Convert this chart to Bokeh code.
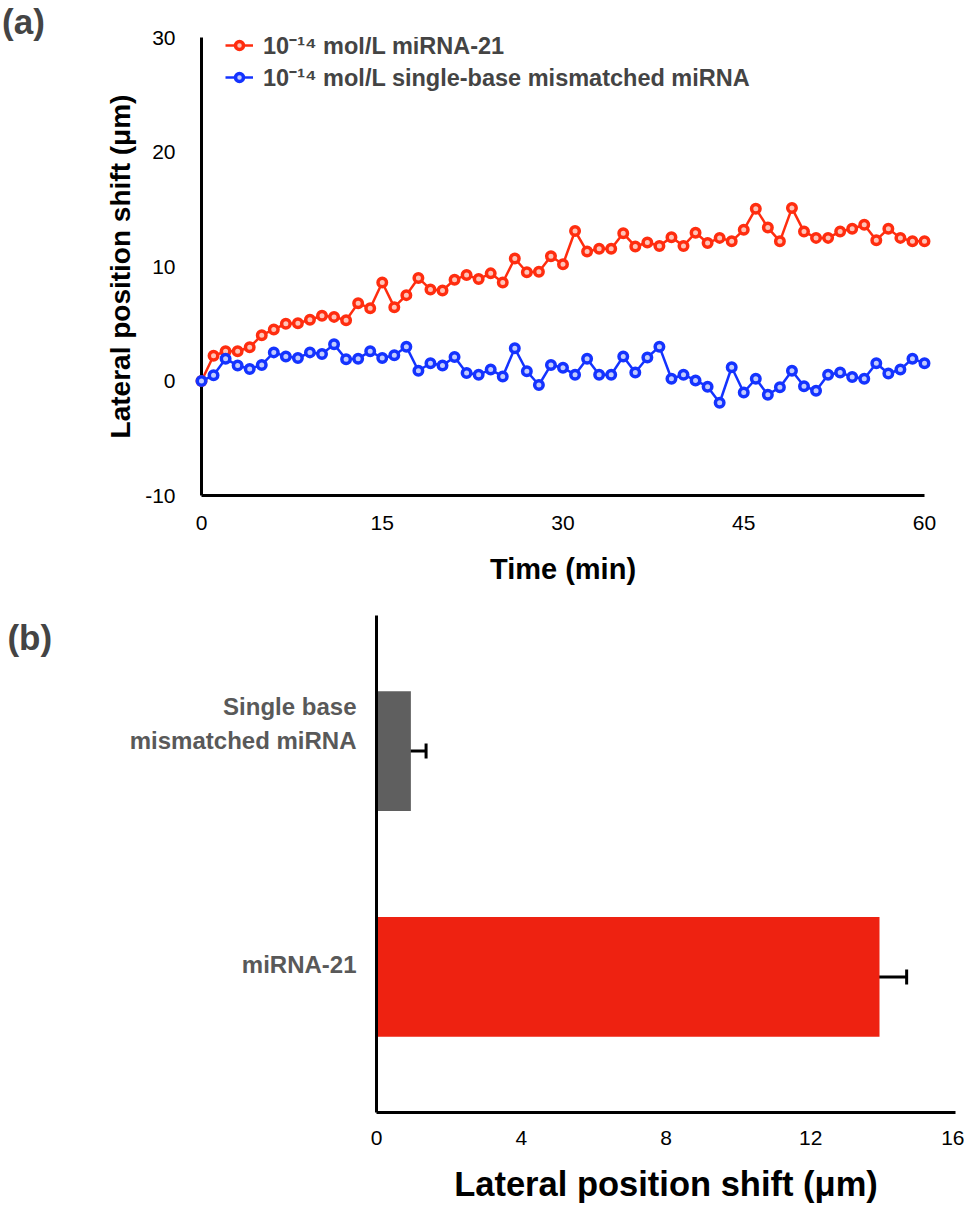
from bokeh.plotting import figure
from bokeh.models import (Legend, LegendItem, Label, Whisker, TeeHead, ColumnDataSource,
                          Range1d, FixedTicker)
from bokeh.embed import file_html
from bokeh.resources import INLINE

# ---------------- data ----------------
time_min = list(range(61))
mirna21 = [0.0, 2.2, 2.6, 2.6, 2.95, 4.0, 4.5, 5.0, 5.05, 5.35, 5.7, 5.6, 5.3, 6.8, 6.35,
           8.6, 6.45, 7.5, 9.0, 8.0, 7.9, 8.85, 9.25, 8.9, 9.4, 8.6, 10.7, 9.5, 9.55, 10.9,
           10.2, 13.1, 11.3, 11.55, 11.55, 12.9, 11.75, 12.1, 11.8, 12.55, 11.8, 12.95, 12.05,
           12.5, 12.2, 13.2, 15.05, 13.4, 12.2, 15.1, 13.05, 12.5, 12.5, 13.05, 13.3, 13.65,
           12.3, 13.3, 12.5, 12.2, 12.2]
mismatched = [0.0, 0.5, 1.95, 1.35, 1.05, 1.4, 2.5, 2.15, 2.0, 2.5, 2.35, 3.2, 1.9, 1.95, 2.6,
              2.0, 2.25, 3.0, 0.9, 1.55, 1.35, 2.1, 0.7, 0.55, 1.0, 0.4, 2.85, 0.85, -0.35, 1.4,
              1.15, 0.55, 1.95, 0.55, 0.55, 2.15, 0.75, 2.05, 3.0, 0.2, 0.55, 0.05, -0.5, -1.9,
              1.2, -1.0, 0.2, -1.2, -0.55, 0.9, -0.45, -0.85, 0.55, 0.75, 0.35, 0.2, 1.55, 0.65,
              1.0, 1.95, 1.55]
series_labels = ["10\u207b\u00b9\u2074 mol/L miRNA-21",
                 "10\u207b\u00b9\u2074 mol/L single-base mismatched miRNA"]
x_ticks_a = [0, 15, 30, 45, 60]
y_ticks_a = [-10, 0, 10, 20, 30]

bar_categories = ["miRNA-21", "Single base mismatched miRNA"]
bar_category_lines = [["miRNA-21"], ["Single base", "mismatched miRNA"]]
bar_values = [13.9, 0.95]
bar_errors = [0.75, 0.42]
x_ticks_b = [0, 4, 8, 12, 16]

# ---------------- style ----------------
FONT = "Liberation Sans"
RED = "#ff2d0f"
RED_FILL = "#ffc4b8"
BLUE = "#1433ff"
BLUE_FILL = "#c2ccff"
BAR_COLORS = ["#ee2211", "#5f5f5f"]


def style_axes(p):
    for ax in (p.xaxis[0], p.yaxis[0]):
        ax.axis_line_width = 3
        ax.axis_line_color = "black"
        ax.major_tick_line_color = None
        ax.minor_tick_line_color = None
        ax.major_label_text_font = FONT
        ax.major_label_text_color = "black"
        ax.axis_label_text_font = FONT
        ax.axis_label_text_font_style = "bold"
        ax.axis_label_text_color = "black"
    p.grid.visible = False
    p.outline_line_color = None
    p.background_fill_color = "white"
    p.border_fill_color = "white"


# ---------------- (a) line chart ----------------
p1 = figure(width=964, height=608, x_range=Range1d(0, 60), y_range=Range1d(-10, 30),
            output_backend="svg", toolbar_location=None,
            min_border_left=201, min_border_right=40, min_border_top=37, min_border_bottom=113)
style_axes(p1)
p1.xaxis.ticker = FixedTicker(ticks=x_ticks_a)
p1.yaxis.ticker = FixedTicker(ticks=y_ticks_a)
p1.yaxis.major_label_overrides = {t: str(t) for t in y_ticks_a}
p1.xaxis.major_label_text_font_size = "21px"
p1.yaxis.major_label_text_font_size = "21px"
p1.xaxis.major_label_standoff = 14
p1.yaxis.major_label_standoff = 20
p1.xaxis.axis_label = "Time (min)"
p1.yaxis.axis_label = "Lateral position shift (\u03bcm)"
p1.xaxis.axis_label_text_font_size = "29px"
p1.yaxis.axis_label_text_font_size = "28px"
p1.xaxis.axis_label_standoff = 20
p1.yaxis.axis_label_standoff = 6

r_line = p1.line(time_min, mirna21, line_color=RED, line_width=2.5, level="overlay")
r_pts = p1.scatter(time_min, mirna21, size=8.5, line_color=RED, line_width=3.5,
                   fill_color=RED_FILL, level="overlay")
b_line = p1.line(time_min, mismatched, line_color=BLUE, line_width=2.5, level="overlay")
b_pts = p1.scatter(time_min, mismatched, size=8.5, line_color=BLUE, line_width=3.5,
                   fill_color=BLUE_FILL, level="overlay")

legend = Legend(items=[LegendItem(label=series_labels[0], renderers=[r_line, r_pts]),
                       LegendItem(label=series_labels[1], renderers=[b_line, b_pts])],
                location=(24, 402))
legend.label_text_font = FONT
legend.label_text_font_style = "bold"
legend.label_text_font_size = "23.5px"
legend.glyph_width = 28
legend.glyph_height = 20
legend.spacing = 0
legend.padding = 0
legend.margin = 0
legend.label_standoff = 10
legend.border_line_color = None
legend.background_fill_alpha = 0
p1.add_layout(legend)

p1.add_layout(Label(x=-16.55, y=33.1, text="(a)", text_font=FONT, text_font_style="bold",
                    text_font_size="35px", text_baseline="top", text_align="left"), "left")

# ---------------- (b) bar chart ----------------
# categories sit at index + 0.5 on a numeric axis; tick labels name them (two lines for
# the long one), set slightly above each bar centre as in the original figure
PX_PER_UNIT = 500 / 2.2
p2 = figure(width=964, height=597, x_range=Range1d(0, 16), y_range=Range1d(-0.1, 2.1),
            output_backend="svg", toolbar_location=None,
            min_border_left=376, min_border_right=9, min_border_top=7, min_border_bottom=90)
style_axes(p2)
p2.xaxis.ticker = FixedTicker(ticks=x_ticks_b)
p2.xaxis.major_label_text_font_size = "21px"
p2.xaxis.major_label_standoff = 12
p2.xaxis.axis_label = "Lateral position shift (\u03bcm)"
p2.xaxis.axis_label_text_font_size = "34.5px"
p2.xaxis.axis_label_standoff = 17

bar_pos = [i + 0.5 for i in range(len(bar_categories))]
tick_vals, tick_text = [], {}
for pos, lines in zip(bar_pos, bar_category_lines):
    n = len(lines)
    for i, line in enumerate(lines):
        off_px = 13 + 32 * (n - 1) - 34 * i
        t = round(pos + off_px / PX_PER_UNIT, 3)
        tick_vals.append(t)
        tick_text[t] = line
p2.yaxis.ticker = FixedTicker(ticks=tick_vals)
p2.yaxis.major_label_overrides = tick_text
p2.yaxis.major_label_text_font_size = "24px"
p2.yaxis.major_label_text_font_style = "bold"
p2.yaxis.major_label_text_color = "#595959"
p2.yaxis.major_label_standoff = 14

bsrc = ColumnDataSource(dict(pos=bar_pos, cat=bar_categories, val=bar_values, color=BAR_COLORS,
                             lower=[v - e for v, e in zip(bar_values, bar_errors)],
                             upper=[v + e for v, e in zip(bar_values, bar_errors)]))
p2.hbar(y="pos", left=0, right="val", height=0.53, fill_color="color", line_color=None,
        source=bsrc)
wh = Whisker(base="pos", lower="lower", upper="upper", dimension="width", source=bsrc,
             line_width=3, line_color="black",
             upper_head=TeeHead(size=15, line_width=3, line_color="black"),
             lower_head=TeeHead(size=15, line_width=3, line_color="black"))
p2.add_layout(wh)

p2.add_layout(Label(x=-10.2, y=2.09, text="(b)", text_font=FONT, text_font_style="bold",
                    text_font_size="35px", text_baseline="top", text_align="left"), "left")

open("out.html", "w").write(file_html([p1, p2], INLINE))
